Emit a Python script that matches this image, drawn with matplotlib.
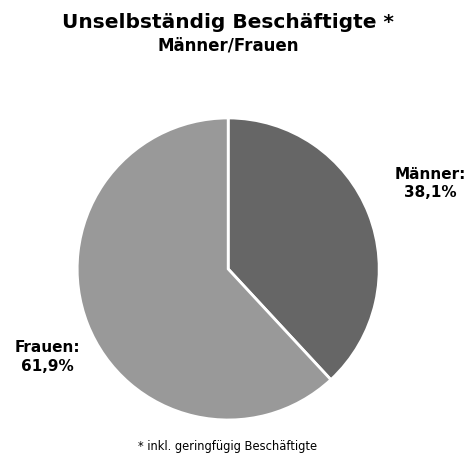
import matplotlib.pyplot as plt
import numpy as np

categories = ['Männer', 'Frauen']
shares = [38.1, 61.9]
colors = ['#666666', '#999999']

# label placement (radius multiple, angle nudge in degrees)
label_dist = [1.45, 1.33]
label_nudge = [1.5, 4.5]

fig = plt.figure(figsize=(4.70, 4.59), dpi=100)
ax = fig.add_axes([0.164, 0.085, 0.643, 0.658])

wedges, _ = ax.pie(shares, colors=colors, startangle=90, counterclock=False,
                   wedgeprops=dict(edgecolor='white', linewidth=2))
ax.set_xlim(-1, 1)
ax.set_ylim(-1, 1)
ax.set_aspect('equal')

# labels outside the slices, centred
for w, cat, val, d, n in zip(wedges, categories, shares, label_dist, label_nudge):
    mid = np.deg2rad((w.theta1 + w.theta2) / 2 + n)
    txt = '%s:\n%s%%' % (cat, ('%.1f' % val).replace('.', ','))
    ax.text(d * np.cos(mid), d * np.sin(mid), txt, ha='center', va='center',
            fontsize=11, fontweight='bold', linespacing=1.3)

fig.text(0.485, 0.952, 'Unselbständig Beschäftigte *', ha='center', va='center',
         fontsize=14.5, fontweight='bold')
fig.text(0.485, 0.900, 'Männer/Frauen', ha='center', va='center',
         fontsize=12, fontweight='bold')
fig.text(0.485, 0.028, '* inkl. geringfügig Beschäftigte', ha='center', va='center',
         fontsize=8.3)

fig.savefig('out.png', dpi=100)
